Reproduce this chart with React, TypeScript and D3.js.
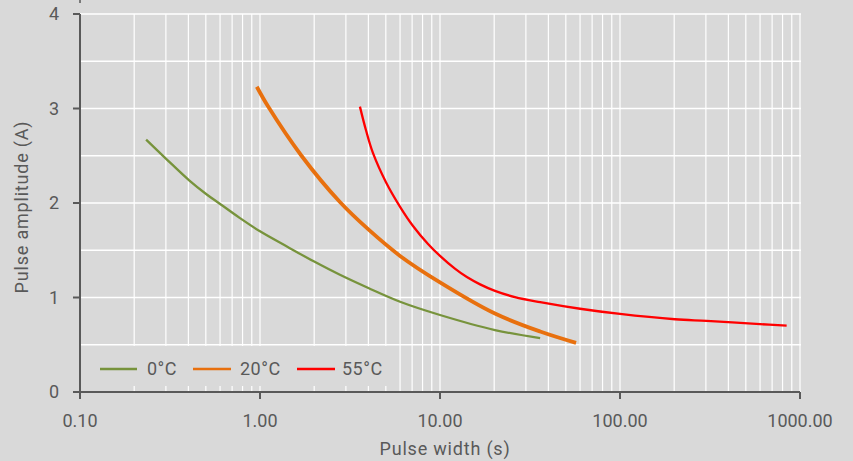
import React from "react";
import * as d3 from "d3";

const W = 853;
const H = 461;

const seriesNames = ["0°C", "20°C", "55°C"];
const seriesColors = ["#77933c", "#e8700e", "#ff0000"];
const seriesWidths = [2.3, 3.8, 2.3];

const width0C = [0.233, 0.3, 0.404, 0.506, 0.6, 0.774, 1.0, 1.41, 2.0, 2.78, 4.0, 6.0, 10, 20.2, 36];
const amp0C = [2.67, 2.47, 2.24, 2.09, 1.99, 1.84, 1.7, 1.54, 1.38, 1.24, 1.1, 0.955, 0.815, 0.656, 0.57];

const width20C = [0.96, 1.11, 1.7, 2.78, 4.0, 6.0, 10, 20.2, 36, 57];
const amp20C = [3.23, 3.02, 2.5, 2.01, 1.72, 1.44, 1.16, 0.83, 0.64, 0.52];

const width55C = [3.59, 3.88, 4.24, 5.01, 6.0, 7.08, 8.58, 10, 12.1, 14.1, 16.7, 20.2, 26.1, 36, 60, 100, 202, 303, 600, 843];
const amp55C = [3.02, 2.77, 2.53, 2.22, 1.96, 1.757, 1.566, 1.44, 1.305, 1.216, 1.139, 1.07, 1.004, 0.951, 0.881, 0.826, 0.77, 0.752, 0.718, 0.703];

const xDecades = [0.1, 1, 10, 100, 1000];
const xTickLabels = ["0.10", "1.00", "10.00", "100.00", "1000.00"];
const yTicks = [0, 1, 2, 3, 4];
const yGrid = [0.5, 1, 1.5, 2, 2.5, 3, 3.5, 4];

const xTitle = "Pulse width (s)";
const yTitle = "Pulse amplitude (A)";

const TEXT = "#595959";
const FONT = "Roboto, 'DejaVu Sans', sans-serif";

export default function App() {
  const left = 80, right = 800, top = 14, bottom = 392;
  const x = d3.scaleLog().domain([0.1, 1000]).range([left, right]);
  const y = d3.scaleLinear().domain([0, 4]).range([bottom, top]);

  const minorX: number[] = [];
  for (let k = 0; k < 4; k++) {
    const base = xDecades[k];
    for (let m = 2; m <= 10; m++) minorX.push(base * m);
  }

  const data = [
    { w: width0C, a: amp0C },
    { w: width20C, a: amp20C },
    { w: width55C, a: amp55C },
  ];

  const line = d3
    .line<[number, number]>()
    .x((d) => x(d[0]))
    .y((d) => y(d[1]))
    .curve(d3.curveCatmullRom.alpha(0.5));

  const legendItems = [
    { x1: 100, x2: 137, tx: 147 },
    { x1: 193, x2: 231, tx: 240 },
    { x1: 297, x2: 335, tx: 342 },
  ];
  const legendY = 369;

  return (
    <svg
      width={W}
      height={H}
      style={{ position: "absolute", left: 0, top: 0, display: "block" }}
      fontFamily={FONT}
    >
      <rect x={0} y={0} width={W} height={H} fill="#d9d9d9" />
      {minorX.map((v, i) => (
        <line key={"vx" + i} x1={x(v)} x2={x(v)} y1={top} y2={bottom} stroke="#ffffff" strokeWidth={1.2} />
      ))}
      {yGrid.map((v, i) => (
        <line key={"hy" + i} x1={left} x2={right + 1} y1={y(v)} y2={y(v)} stroke="#ffffff" strokeWidth={1.4} />
      ))}
      <rect x={82} y={346} width={316} height={40} fill="#d9d9d9" />
      <line x1={left} x2={left} y1={top} y2={bottom + 7} stroke={TEXT} strokeWidth={2} />
      <line x1={left} x2={left} y1={0} y2={3} stroke={TEXT} strokeWidth={1.5} />
      <line x1={73} x2={right} y1={bottom} y2={bottom} stroke={TEXT} strokeWidth={2} />
      {yTicks.map((v) => (
        <g key={"yt" + v}>
          <line x1={73} x2={left} y1={y(v)} y2={y(v)} stroke={TEXT} strokeWidth={2} />
          <text x={59} y={y(v)} dy="0.36em" textAnchor="end" fontSize={18} fill={TEXT}>
            {v}
          </text>
        </g>
      ))}
      {xDecades.map((v, i) => (
        <g key={"xt" + i}>
          <line x1={x(v)} x2={x(v)} y1={bottom} y2={bottom + 7} stroke={TEXT} strokeWidth={2} />
          <text x={x(v)} y={427} textAnchor="middle" fontSize={18} fill={TEXT}>
            {xTickLabels[i]}
          </text>
        </g>
      ))}
      {data.map((s, i) => (
        <path
          key={"s" + i}
          d={line(s.w.map((w, j) => [w, s.a[j]] as [number, number])) || ""}
          fill="none"
          stroke={seriesColors[i]}
          strokeWidth={seriesWidths[i]}
          strokeLinecap="butt"
        />
      ))}
      {legendItems.map((l, i) => (
        <g key={"lg" + i}>
          <line x1={l.x1} x2={l.x2} y1={legendY} y2={legendY} stroke={seriesColors[i]} strokeWidth={2.5} />
          <text x={l.tx} y={legendY} dy="0.36em" fontSize={18} fill={TEXT} letterSpacing={0.5}>
            {seriesNames[i]}
          </text>
        </g>
      ))}
      <text x={445} y={455} textAnchor="middle" fontSize={18} fill={TEXT} letterSpacing={0.8}>
        {xTitle}
      </text>
      <text
        transform={`translate(28, ${(top + bottom) / 2 + 4}) rotate(-90)`}
        textAnchor="middle"
        fontSize={18}
        fill={TEXT}
        letterSpacing={0.8}
      >
        {yTitle}
      </text>
    </svg>
  );
}
